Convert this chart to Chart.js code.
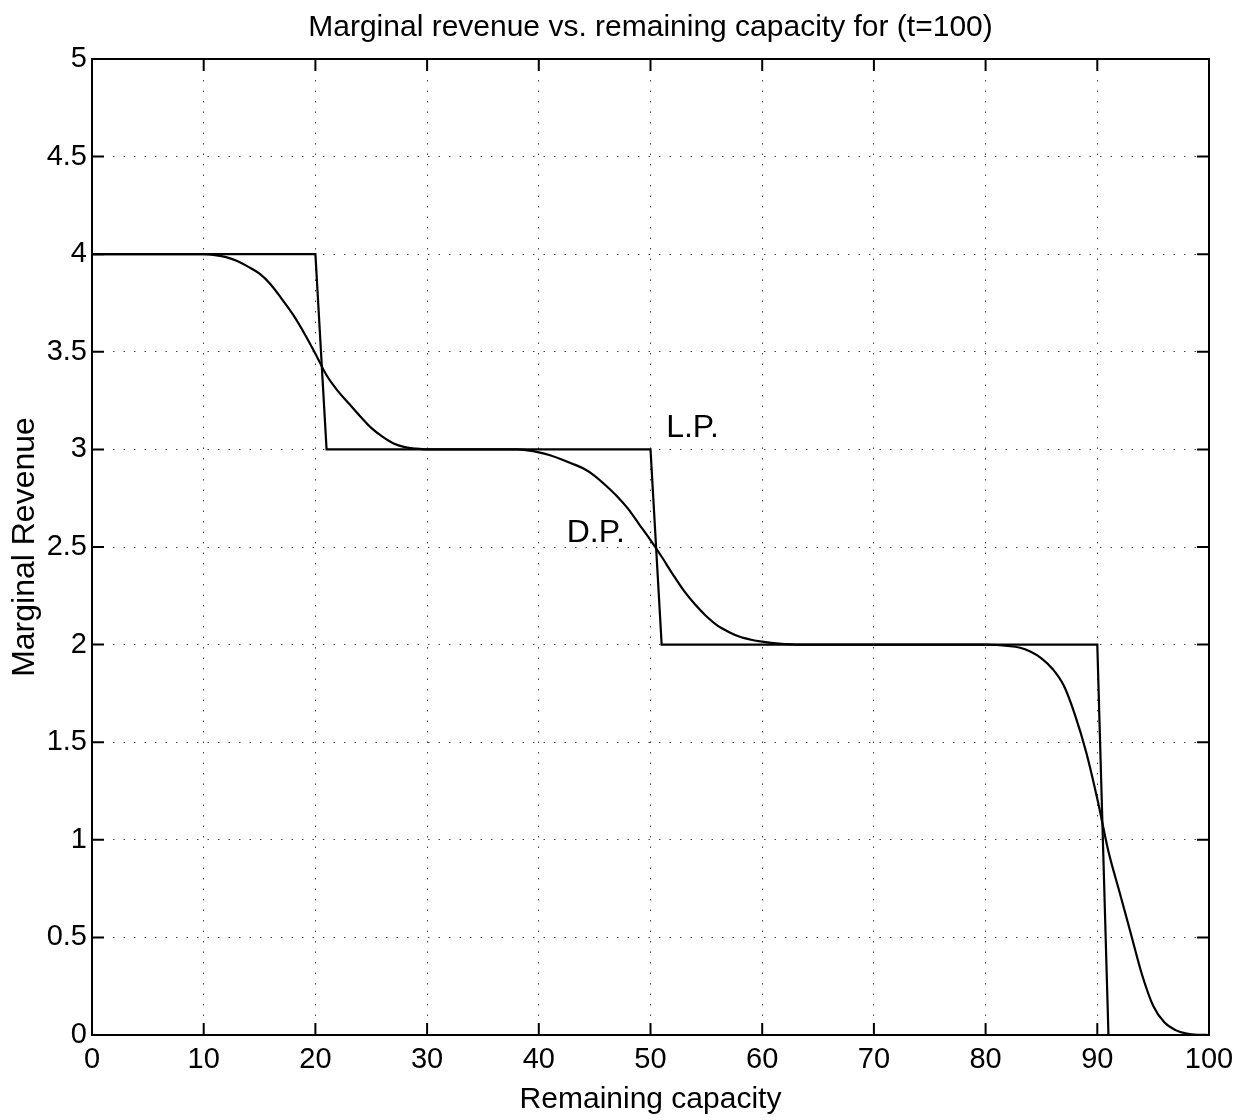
<!DOCTYPE html>
<html>
<head>
<meta charset="utf-8">
<script src="https://cdn.jsdelivr.net/npm/chart.js@4/dist/chart.umd.min.js"></script>
<style>
  html, body { margin: 0; padding: 0; background: #fff; }
  #wrap { width: 1242px; height: 1120px; }
</style>
</head>
<body>
<div id="wrap"><canvas id="chart" width="1242" height="1120"></canvas></div>
<script>
// L.P. staircase
const lpX = [0, 20, 21, 50, 51, 90, 91];
const lpY = [4, 4, 3, 3, 2, 2, 0];

// D.P. smooth curve
const dpX = [0,
  10, 11, 12, 13, 14, 15, 16, 17, 18, 19, 20, 21, 22, 23, 24, 25, 26, 27, 28, 29, 30,
  38, 39, 40, 41, 42, 43, 44, 45, 46, 47, 48, 49, 50, 51, 52, 53, 54, 55, 56, 57, 58, 59, 60, 61, 62, 63,
  80, 81, 82, 83, 84, 85, 86, 87, 88, 89, 90, 91, 92, 93, 94, 95, 96, 97, 98, 99, 100];
const dpY = [4,
  4.0, 3.995, 3.985, 3.965, 3.935, 3.90, 3.845, 3.77, 3.69, 3.595, 3.49, 3.38, 3.30, 3.235, 3.17, 3.11, 3.065, 3.03, 3.012, 3.004, 3.0,
  3.0, 2.995, 2.985, 2.97, 2.95, 2.927, 2.902, 2.865, 2.815, 2.76, 2.695, 2.615, 2.535, 2.45, 2.36, 2.275, 2.205, 2.145, 2.097, 2.065, 2.04, 2.025, 2.015, 2.008, 2.003, 2.0,
  2.0, 1.998, 1.993, 1.985, 1.965, 1.93, 1.875, 1.79, 1.64, 1.45, 1.21, 0.94, 0.73, 0.52, 0.31, 0.15, 0.065, 0.025, 0.007, 0.001, 0];

const xTicks = [0, 10, 20, 30, 40, 50, 60, 70, 80, 90, 100];
const yTicks = [0, 0.5, 1, 1.5, 2, 2.5, 3, 3.5, 4, 4.5, 5];

const titleText = 'Marginal revenue vs. remaining capacity for (t=100)';

// text labels placed at data coords
const notes = [
  { text: 'L.P.', x: 51.4, y: 3.11 },
  { text: 'D.P.', x: 42.5, y: 2.57 }
];

const FONT = '"Liberation Sans", Arial, sans-serif';

// box + inward ticks + title over the axes + annotations, matlab style
const matlabBox = {
  id: 'matlabBox',
  afterDatasetsDraw(chart) {
    const { ctx, chartArea: a, scales: { x, y } } = chart;
    ctx.save();
    ctx.strokeStyle = '#000';
    ctx.lineWidth = 2;
    ctx.strokeRect(a.left, a.top, a.right - a.left, a.bottom - a.top);
    ctx.beginPath();
    xTicks.forEach(v => {
      const px = x.getPixelForValue(v);
      ctx.moveTo(px, a.bottom); ctx.lineTo(px, a.bottom - 12);
      ctx.moveTo(px, a.top); ctx.lineTo(px, a.top + 12);
    });
    yTicks.forEach(v => {
      const py = y.getPixelForValue(v);
      ctx.moveTo(a.left, py); ctx.lineTo(a.left + 12, py);
      ctx.moveTo(a.right, py); ctx.lineTo(a.right - 12, py);
    });
    ctx.stroke();

    ctx.fillStyle = '#000';
    ctx.textBaseline = 'middle';
    ctx.textAlign = 'center';
    ctx.font = '30px ' + FONT;
    ctx.fillText(titleText, (a.left + a.right) / 2, 28);

    ctx.font = '32px ' + FONT;
    ctx.textAlign = 'left';
    notes.forEach(n => ctx.fillText(n.text, x.getPixelForValue(n.x), y.getPixelForValue(n.y)));
    ctx.restore();
  }
};

const pts = (xs, ys) => xs.map((v, i) => ({ x: v, y: ys[i] }));

new Chart(document.getElementById('chart'), {
  type: 'line',
  data: {
    datasets: [
      { label: 'L.P.', data: pts(lpX, lpY), borderColor: '#000', borderWidth: 2.2, pointRadius: 0, tension: 0 },
      { label: 'D.P.', data: pts(dpX, dpY), borderColor: '#000', borderWidth: 2.2, pointRadius: 0, cubicInterpolationMode: 'monotone' }
    ]
  },
  plugins: [matlabBox],
  options: {
    responsive: false,
    animation: false,
    layout: { padding: { left: 0, right: 33, top: 59, bottom: 0 } },
    plugins: {
      legend: { display: false },
      tooltip: { enabled: false },
      title: { display: false }
    },
    scales: {
      x: {
        type: 'linear',
        min: 0, max: 100,
        afterBuildTicks: s => { s.ticks = xTicks.map(v => ({ value: v })); },
        afterFit: s => { s.height = 85; },
        grid: { color: '#444', lineWidth: 1, drawTicks: false },
        border: { display: false, dash: [1.5, 9] },
        ticks: { color: '#000', font: { family: FONT, size: 29 }, padding: 8, maxRotation: 0 },
        title: { display: true, text: 'Remaining capacity', color: '#000', font: { family: FONT, size: 30 }, padding: { top: 0, bottom: 2 } }
      },
      y: {
        type: 'linear',
        min: 0, max: 5,
        afterBuildTicks: s => { s.ticks = yTicks.map(v => ({ value: v })); },
        afterFit: s => { s.width = 92; },
        grid: { color: '#444', lineWidth: 1, drawTicks: false },
        border: { display: false, dash: [1.5, 9] },
        ticks: { color: '#000', font: { family: FONT, size: 29 }, padding: 5, callback: v => String(v) },
        title: { display: true, text: 'Marginal Revenue', color: '#000', font: { family: FONT, size: 32 }, padding: { top: 6, bottom: 0 } }
      }
    }
  }
});
</script>
</body>
</html>
